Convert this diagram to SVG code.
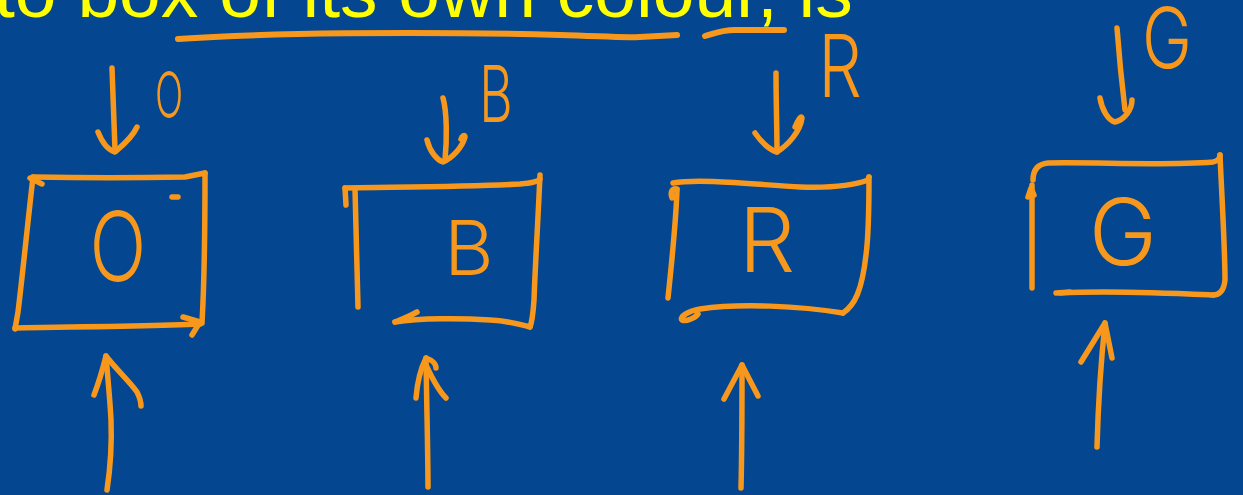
<svg xmlns="http://www.w3.org/2000/svg" width="1243" height="495" viewBox="0 0 1243 495">
<style>
.ink{fill:none;stroke:#F7981D;stroke-width:5.5;stroke-linecap:round;stroke-linejoin:round}
.thick{stroke-width:6}
.hand{fill:#F7981D;font-family:"Inter","Open Sans","Liberation Sans",sans-serif;font-weight:300;text-anchor:middle}
.title{fill:#FFFF00;font-family:"Liberation Sans",Arial,sans-serif;font-size:75px}
</style>
<rect width="1243" height="495" fill="#04468F"/>
<text class="title" x="-6" y="17">to box of its own colour, is</text>
<g id="underline">
<path class="ink thick" d="M178,39 C260,33 420,31 560,35 C600,36 620,38 640,37 L677,35"/>
<path class="ink thick" d="M705,36 C715,33 722,30 735,30 L784,30"/>
</g>
<g id="node-O">
<path class="ink" d="M30,178 L42,184"/>
<path class="ink" d="M33,177 C80,178 140,178 185,177 L205,173"/>
<path class="ink" d="M205,173 C205,220 205,270 202,323"/>
<path class="ink" d="M15,328 C80,327 150,326 200,324"/>
<path class="ink" d="M183,317 L200,322 L192,335"/>
<path class="ink" d="M33,177 C28,220 22,280 18,312 L15,329"/>
<path class="ink" d="M172,197 L178,197"/>
<text class="hand" font-size="96" transform="translate(118,281) scale(0.78,1)">O</text>
</g>
<g id="node-B">
<path class="ink" d="M345,188 C400,187 470,187 520,184 C530,183 538,182 540,179"/>
<path class="ink" d="M345,188 L346,205"/>
<path class="ink" d="M355,189 C356,230 357,270 358,307"/>
<path class="ink" d="M540,175 C538,220 535,270 534,300 C533,315 532,322 530,327"/>
<path class="ink" d="M395,322 C420,318 460,318 490,320 C510,321 522,325 530,327"/>
<path class="ink" d="M395,322 C403,319 410,316 417,312"/>
<text class="hand" font-size="76" x="469" y="275">B</text>
</g>
<g id="node-R">
<path class="ink" d="M673,183 C700,178 760,185 800,187 C830,188 855,185 868,180 L869,177"/>
<path class="ink" d="M672,198 C670,192 672,188 677,189"/>
<path class="ink" d="M677,190 C676,220 672,260 668,298"/>
<path class="ink" d="M869,177 C869,210 868,240 866,255 C862,290 855,305 843,313"/>
<path class="ink" d="M843,313 C800,306 740,303 700,309 C688,311 679,317 682,320 C686,322 695,318 698,314"/>
<text class="hand" font-size="89" x="767" y="272">R</text>
</g>
<g id="node-G">
<path class="ink" d="M1033,180 C1033,170 1038,164 1048,163 C1100,162 1160,166 1213,162 C1218,161 1220,158 1220,155"/>
<path class="ink" d="M1032,185 L1032,288"/>
<path class="ink" d="M1028,197 L1031,188 L1034,195"/>
<path class="ink" d="M1220,155 C1222,200 1225,250 1225,280 C1224,290 1220,295 1213,295"/>
<path class="ink" d="M1213,295 C1170,293 1110,290 1060,293"/>
<path class="ink" stroke-width="8" d="M1056,293 L1070,292"/>
<text class="hand" font-size="92" x="1123" y="265">G</text>
</g>
<g id="connectors">
<path class="ink" d="M112,68 C113,95 114,125 115,150"/>
<path class="ink" d="M98,132 C102,142 108,150 115,152 C122,146 132,138 137,127"/>
<path class="ink" d="M443,98 C447,112 447,140 445,160"/>
<path class="ink" d="M427,140 C430,152 437,160 443,162 C452,158 462,148 465,137 C465,134 462,136 461,139"/>
<path class="ink" d="M776,73 C776,100 777,130 777,152"/>
<path class="ink" d="M755,133 C762,143 770,150 777,152 C788,145 800,132 802,118 C801,115 798,120 795,127"/>
<path class="ink" d="M1117,28 C1119,55 1122,85 1125,110"/>
<path class="ink" d="M1100,98 C1102,110 1108,120 1115,122 C1124,120 1132,110 1132,100"/>
<path class="ink" stroke-width="7" d="M107,490 C110,470 112,445 111,420 C110,400 108,380 106,356"/>
<path class="ink" stroke-width="6.5" d="M94,395 C99,382 103,368 106,356 C115,368 130,382 137,392 C140,398 141,404 141,406"/>
<path class="ink" d="M428,487 C428,460 427,420 426,358"/>
<path class="ink" d="M416,398 C417,385 420,370 426,358 C432,360 436,364 436,368"/>
<path class="ink" d="M426,365 C432,378 438,390 446,398"/>
<path class="ink" d="M741,488 C742,450 742,400 742,365"/>
<path class="ink" d="M724,399 L742,365 L758,396"/>
<path class="ink" d="M1097,447 C1098,410 1100,370 1105,323"/>
<path class="ink" d="M1081,362 L1105,323 L1112,358"/>
</g>
<g id="labels">
<text class="hand" font-size="64" transform="translate(169,118) scale(0.58,1)">O</text>
<text class="hand" font-size="78" transform="translate(496,122) scale(0.66,1)">B</text>
<text class="hand" font-size="86" transform="translate(840,97) scale(0.8,1)">R</text>
<text class="hand" font-size="84" transform="translate(1167,68) scale(0.8,1)">G</text>
</g>
</svg>
